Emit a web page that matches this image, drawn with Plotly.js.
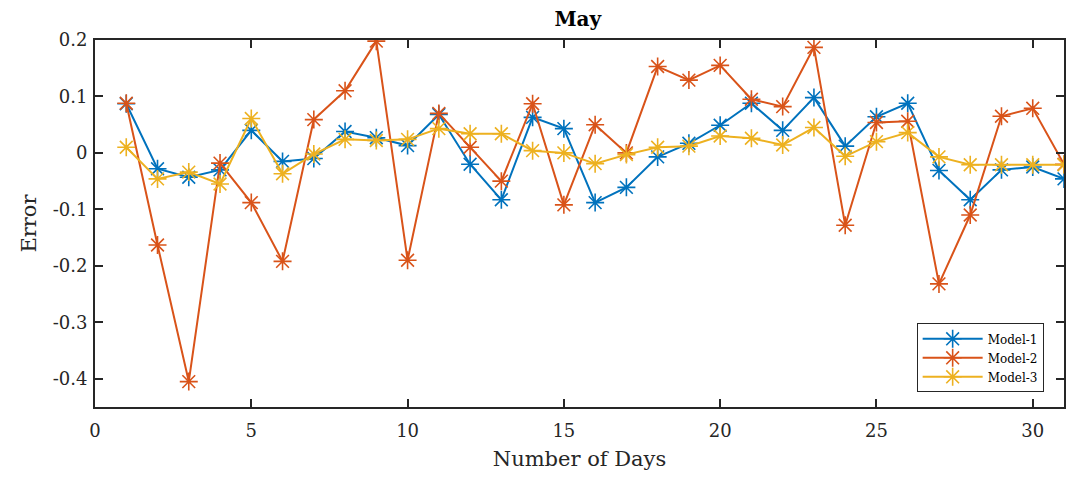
<!DOCTYPE html>
<html><head><meta charset="utf-8">
<script src="https://cdn.plot.ly/plotly-3.0.1.min.js"></script>
<style>body{margin:0;background:#fff}#c{width:1070px;height:479px}</style>
</head><body><div id="c"></div>
<script>
const days = Array.from({length:31},(_,i)=>i+1);
const model1 = [0.087,-0.028,-0.043,-0.030,0.040,-0.015,-0.010,0.038,0.027,0.013,0.068,-0.020,-0.083,0.063,0.043,-0.088,-0.061,-0.007,0.017,0.049,0.088,0.040,0.098,0.012,0.064,0.088,-0.031,-0.083,-0.030,-0.025,-0.046];
const model2 = [0.088,-0.163,-0.405,-0.018,-0.088,-0.192,0.059,0.110,0.198,-0.190,0.070,0.010,-0.050,0.087,-0.092,0.050,0.000,0.153,0.129,0.155,0.095,0.082,0.187,-0.128,0.054,0.056,-0.232,-0.110,0.065,0.079,-0.020];
const model3 = [0.010,-0.046,-0.034,-0.055,0.061,-0.037,-0.002,0.024,0.022,0.024,0.043,0.034,0.034,0.004,0.000,-0.019,-0.003,0.010,0.012,0.030,0.026,0.014,0.045,-0.006,0.020,0.036,-0.007,-0.021,-0.021,-0.021,-0.021];
const seriesNames = ['Model-1','Model-2','Model-3'];
const colors = ['#0072BD','#D95319','#EDB120'];
const xTickVals = [0,5,10,15,20,25,30];
const yTickVals = [-0.4,-0.3,-0.2,-0.1,0,0.1,0.2];
const yTickText = ['-0.4','-0.3','-0.2','-0.1','0','0.1','0.2'];

const font = 'DejaVu Serif, serif';
const data = [model1, model2, model3].map((ys,i)=>({
  x: days, y: ys, name: seriesNames[i], type:'scatter', mode:'lines+markers',
  line:{color:colors[i], width:2},
  marker:{symbol:'asterisk-open', size:15, color:colors[i], line:{color:colors[i], width:1.6}}
}));
const axisCommon = {showgrid:false, zeroline:false, showline:true, mirror:'ticks', linecolor:'#262626', linewidth:2,
  ticks:'inside', ticklen:8, tickwidth:2, tickcolor:'#262626', tickfont:{family:font, size:18, color:'#262626'}};
const layout = {
  width:1070, height:479, paper_bgcolor:'#fff', plot_bgcolor:'#fff',
  margin:{l:95, r:6, t:40, b:72},
  title:{text:'<b>May</b>', font:{family:font, size:20, color:'#000'}, x:0.54, xanchor:'center', y:0.975, yanchor:'top'},
  xaxis:Object.assign({}, axisCommon, {range:[0,31], tickvals:xTickVals, ticklabelstandoff:6,
    title:{text:'Number of Days', font:{family:font, size:21, color:'#262626'}, standoff:12}}),
  yaxis:Object.assign({}, axisCommon, {range:[-0.45,0.2], tickvals:yTickVals, ticktext:yTickText, ticklabelstandoff:2,
    title:{text:'Error', font:{family:font, size:21, color:'#262626'}, standoff:10}}),
  showlegend:true,
  legend:{x:0.979, xanchor:'right', y:0.04, yanchor:'bottom', bgcolor:'#fff', bordercolor:'#262626', borderwidth:1,
    font:{family:font, size:12, color:'#000'}, tracegroupgap:0, itemwidth:60}
};
Plotly.newPlot('c', data, layout, {displayModeBar:false, staticPlot:true});
</script></body></html>
